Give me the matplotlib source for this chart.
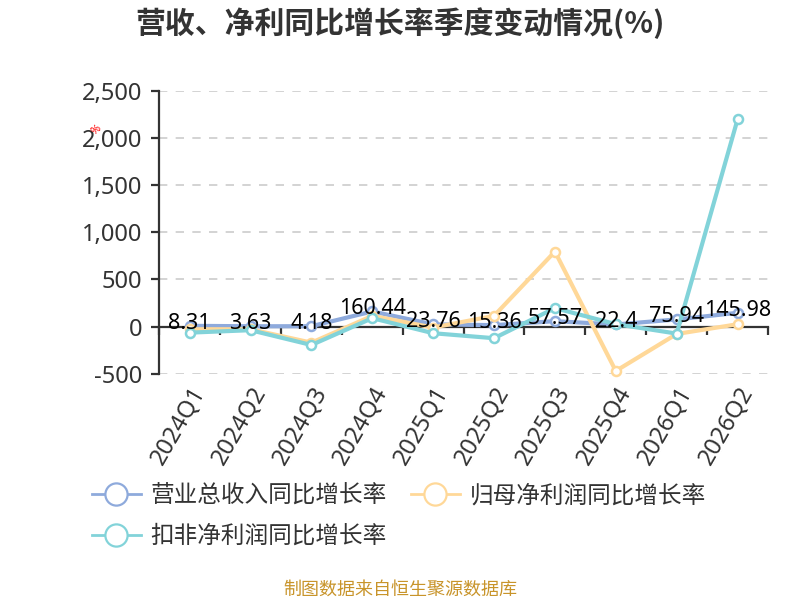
import matplotlib
matplotlib.use("Agg")
import matplotlib.pyplot as plt
import numpy as np

plt.rcParams['font.family'] = ['Noto Sans', 'Noto Sans CJK SC', 'DejaVu Sans']

quarters = ["2024Q1", "2024Q2", "2024Q3", "2024Q4", "2025Q1", "2025Q2",
            "2025Q3", "2025Q4", "2026Q1", "2026Q2"]
revenue_yoy = [8.31, 3.63, 4.18, 160.44, 23.76, 15.36, 57.57, 22.4, 75.94, 145.98]
netprofit_yoy = [-28, -28, -170, 114, -10, 114, 795, -470, -78, 25]
deducted_yoy = [-64, -38, -195, 89, -70, -123, 196, 26, -74, 2195]
series_names = ["营业总收入同比增长率", "归母净利润同比增长率", "扣非净利润同比增长率"]
colors = ["#8eaadc", "#ffd898", "#82d3d9"]
yticks = [-500, 0, 500, 1000, 1500, 2000, 2500]

fig = plt.figure(figsize=(8, 6), dpi=100)
ax = fig.add_axes([0.199, 0.377, 0.761, 0.472])

x = np.arange(len(quarters))
lines = []
for vals, name, c in zip([revenue_yoy, netprofit_yoy, deducted_yoy], series_names, colors):
    ln, = ax.plot(x, vals, color=c, lw=3, marker='o', ms=6.5,
                  markerfacecolor='white', markeredgecolor=c, markeredgewidth=1.8,
                  label=name, zorder=3, clip_on=False)
    lines.append(ln)

for xi, v in zip(x, revenue_yoy):
    ax.annotate(f"{v:g}", (xi, v), xytext=(0, 2), textcoords='offset points',
                ha='center', va='center', fontsize=15.5, color='black', zorder=5)

ax.set_xlim(-0.5, len(quarters) - 0.5)
ax.set_ylim(-500, 2500)
ax.set_yticks(yticks)
ax.set_yticklabels([f"{t:,}" for t in yticks])
ax.yaxis.grid(True, linestyle=(0, (5, 5)), color='#cccccc', lw=1.2)
ax.set_axisbelow(True)

for s in ['right', 'bottom']:
    ax.spines[s].set_visible(False)
ax.spines['left'].set_color('#333333')
ax.spines['left'].set_linewidth(1.6)
ax.spines['top'].set_position(('data', 0))
ax.spines['top'].set_color('#333333')
ax.spines['top'].set_linewidth(1.6)

ax.set_xticks(x)
ax.set_xticklabels(quarters, rotation=60, ha='right', va='top', rotation_mode='anchor')
ax.set_xticks(np.arange(-0.5, len(quarters), 1.0), minor=True)
ax.tick_params(axis='x', which='major', length=0, labelsize=17, labelcolor='#333333', pad=6,
               top=False, bottom=True)
ax.tick_params(axis='x', which='minor', top=True, bottom=False, direction='in',
               length=6, width=1.6, color='#333333')
ax.tick_params(axis='y', length=6, width=1.6, color='#333333', labelsize=17,
               labelcolor='#333333', pad=6)

fig.text(0.5, 0.962, "营收、净利同比增长率季度变动情况(%)", ha='center', va='center',
         fontsize=21.5, fontweight='bold', color='#333333',
         family=['Noto Sans CJK SC', 'DejaVu Sans'])

leg = fig.legend([lines[0], lines[2], lines[1]],
                 [series_names[0], series_names[2], series_names[1]],
                 ncol=2, loc='upper left', bbox_to_anchor=(0.088, 0.228),
                 frameon=False, fontsize=17, handlelength=2.1, handletextpad=0.4,
                 columnspacing=1.0, labelspacing=0.7, labelcolor='#333333')
for h in leg.legend_handles:
    h.set_markersize(16)
    h.set_linewidth(2)
    h.set_markeredgewidth(1.6)

fig.text(0.5, 0.017, "制图数据来自恒生聚源数据库", ha='center', va='center',
         fontsize=13, color='#c8942a')
fig.text(0.121, 0.783, "%", ha='center', va='center', fontsize=8, color='red', rotation=40)

fig.savefig("out.png", dpi=100)
